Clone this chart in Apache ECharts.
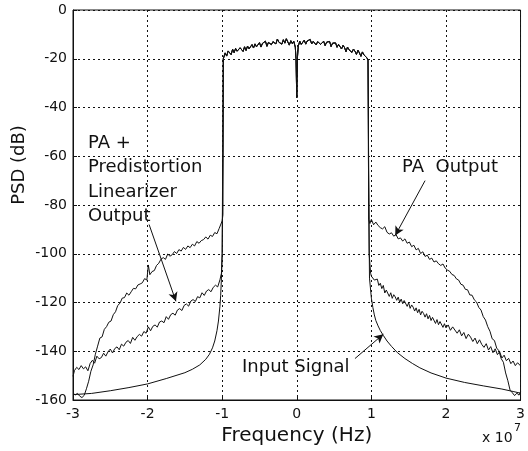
<!DOCTYPE html>
<html>
<head>
<meta charset="utf-8">
<script src="https://cdn.jsdelivr.net/npm/echarts@6/dist/echarts.min.js"></script>
<style>html,body{margin:0;padding:0;background:#fff;}#c{width:528px;height:451px;}</style>
</head>
<body>
<div id="c"></div>
<script>
// Frequency in units of 1e7 Hz, PSD in dB
const xTicks = [-3, -2, -1, 0, 1, 2, 3];
const yTicks = [0, -20, -40, -60, -80, -100, -120, -140, -160];

// shared in-band region (all three spectra overlap here)
const inBand = [[-0.98,-20.5],[-0.96,-17.6],[-0.94,-18.9],[-0.92,-16.8],[-0.90,-17.2],[-0.88,-18.3],[-0.86,-16.1],[-0.84,-17.5],[-0.82,-15.8],[-0.80,-16.9],[-0.78,-17.4],[-0.76,-15.5],[-0.74,-16.2],[-0.72,-17.0],[-0.70,-15.1],[-0.68,-16.6],[-0.66,-14.8],[-0.64,-15.9],[-0.62,-16.4],[-0.60,-14.2],[-0.58,-15.6],[-0.56,-13.9],[-0.54,-15.1],[-0.52,-14.6],[-0.50,-13.4],[-0.48,-15.2],[-0.46,-13.7],[-0.44,-14.1],[-0.42,-12.8],[-0.40,-14.9],[-0.38,-13.3],[-0.36,-12.6],[-0.34,-14.2],[-0.32,-13.0],[-0.30,-12.3],[-0.28,-13.9],[-0.26,-11.9],[-0.24,-13.2],[-0.22,-12.5],[-0.20,-14.0],[-0.18,-12.2],[-0.16,-13.6],[-0.14,-11.8],[-0.12,-13.1],[-0.10,-14.4],[-0.08,-12.6],[-0.06,-13.8],[-0.04,-12.9],[-0.02,-15.2],[-0.01,-20.0],[-0.004,-30.0],[0.00,-36.0],[0.004,-28.0],[0.01,-19.0],[0.02,-14.9],[0.04,-12.8],[0.06,-14.1],[0.08,-13.3],[0.10,-12.4],[0.12,-14.0],[0.14,-12.7],[0.16,-13.5],[0.18,-12.1],[0.20,-13.9],[0.22,-12.9],[0.24,-12.4],[0.26,-14.3],[0.28,-13.0],[0.30,-12.6],[0.32,-14.1],[0.34,-13.4],[0.36,-12.8],[0.38,-14.6],[0.40,-13.2],[0.42,-14.0],[0.44,-12.9],[0.46,-15.0],[0.48,-13.6],[0.50,-14.4],[0.52,-13.5],[0.54,-15.3],[0.56,-14.1],[0.58,-14.8],[0.60,-16.0],[0.62,-14.5],[0.64,-15.4],[0.66,-17.1],[0.68,-15.2],[0.70,-16.3],[0.72,-15.6],[0.74,-17.4],[0.76,-16.0],[0.78,-16.9],[0.80,-18.2],[0.82,-16.5],[0.84,-17.6],[0.86,-19.0],[0.88,-17.2],[0.90,-18.4],[0.92,-17.6],[0.94,-19.6],[0.955,-20.5]];

// PA output skirts
const paLeft = [[-3.00,-157.2],[-2.97,-157.9],[-2.94,-157.3],[-2.91,-158.4],[-2.88,-159.0],[-2.85,-158.1],[-2.82,-155.4],[-2.79,-152.3],[-2.76,-148.2],[-2.73,-145.6],[-2.70,-141.2],[-2.67,-137.9],[-2.64,-134.6],[-2.61,-134.1],[-2.58,-131.0],[-2.55,-129.9],[-2.52,-128.1],[-2.49,-127.6],[-2.46,-125.0],[-2.43,-123.8],[-2.40,-121.2],[-2.37,-120.3],[-2.34,-118.2],[-2.31,-118.0],[-2.28,-116.1],[-2.25,-117.0],[-2.22,-115.6],[-2.19,-114.2],[-2.16,-114.4],[-2.13,-112.8],[-2.10,-112.4],[-2.07,-111.9],[-2.04,-110.2],[-2.01,-110.8],[-1.99,-104.6],[-1.97,-108.6],[-1.94,-107.3],[-1.91,-106.9],[-1.88,-104.8],[-1.85,-103.9],[-1.82,-102.2],[-1.79,-101.6],[-1.76,-102.3],[-1.73,-100.1],[-1.70,-101.0],[-1.67,-100.4],[-1.64,-99.1],[-1.61,-99.9],[-1.58,-98.3],[-1.55,-98.9],[-1.52,-97.4],[-1.49,-98.2],[-1.46,-96.8],[-1.43,-97.5],[-1.40,-96.1],[-1.37,-96.8],[-1.34,-95.0],[-1.31,-95.7],[-1.28,-94.6],[-1.25,-94.2],[-1.22,-93.1],[-1.19,-94.0],[-1.16,-92.4],[-1.13,-92.9],[-1.10,-91.3],[-1.07,-91.8],[-1.04,-89.6],[-1.02,-88.9],[-1.00,-86.5],[-0.99,-84.0],[-0.985,-20.0]];
const paRight = [[0.96,-40.0],[0.965,-86.0],[0.98,-87.6],[1.00,-85.9],[1.03,-88.1],[1.06,-87.0],[1.09,-88.4],[1.12,-89.3],[1.15,-89.8],[1.18,-88.9],[1.21,-91.2],[1.24,-91.9],[1.27,-91.4],[1.30,-92.8],[1.33,-92.1],[1.36,-93.9],[1.39,-93.5],[1.42,-94.8],[1.45,-93.9],[1.48,-95.7],[1.51,-95.2],[1.54,-97.1],[1.57,-96.5],[1.60,-98.4],[1.63,-97.8],[1.66,-99.9],[1.69,-99.2],[1.72,-101.1],[1.75,-100.6],[1.78,-102.3],[1.81,-101.8],[1.84,-103.4],[1.87,-102.9],[1.90,-104.1],[1.93,-104.8],[1.96,-104.2],[1.99,-105.9],[2.02,-106.7],[2.05,-107.2],[2.08,-108.5],[2.11,-108.9],[2.14,-110.3],[2.17,-110.8],[2.20,-112.5],[2.23,-112.9],[2.26,-114.6],[2.29,-114.8],[2.32,-116.9],[2.35,-117.0],[2.38,-118.9],[2.41,-119.8],[2.44,-122.0],[2.47,-123.1],[2.50,-125.8],[2.53,-127.2],[2.56,-129.9],[2.59,-131.8],[2.62,-134.9],[2.65,-135.6],[2.68,-138.7],[2.71,-139.8],[2.74,-143.0],[2.77,-144.5],[2.80,-148.9],[2.83,-152.1],[2.86,-156.0],[2.89,-157.0],[2.92,-158.2],[2.95,-157.2],[2.98,-158.0],[3.00,-156.6]];

// PA + predistortion linearizer output skirts
const pdLeft = [[-3.00,-150.3],[-2.98,-147.9],[-2.95,-146.6],[-2.92,-147.5],[-2.89,-145.9],[-2.86,-147.2],[-2.83,-146.4],[-2.80,-148.0],[-2.77,-145.0],[-2.74,-143.7],[-2.71,-144.9],[-2.68,-142.0],[-2.65,-143.1],[-2.62,-142.6],[-2.59,-140.8],[-2.56,-142.0],[-2.53,-140.2],[-2.50,-139.1],[-2.47,-140.7],[-2.44,-138.9],[-2.41,-138.2],[-2.38,-139.4],[-2.35,-137.1],[-2.32,-137.9],[-2.29,-136.3],[-2.26,-135.6],[-2.23,-136.8],[-2.20,-134.3],[-2.17,-135.5],[-2.14,-134.0],[-2.11,-133.1],[-2.08,-133.8],[-2.05,-131.9],[-2.02,-132.6],[-1.99,-130.0],[-1.96,-131.6],[-1.93,-129.8],[-1.90,-129.2],[-1.87,-130.1],[-1.84,-128.0],[-1.81,-127.6],[-1.78,-128.3],[-1.75,-125.8],[-1.72,-126.9],[-1.69,-125.0],[-1.66,-124.4],[-1.63,-125.2],[-1.60,-123.1],[-1.57,-122.5],[-1.54,-123.3],[-1.51,-121.2],[-1.48,-120.6],[-1.45,-121.5],[-1.42,-119.4],[-1.39,-118.8],[-1.36,-119.6],[-1.33,-117.6],[-1.30,-118.1],[-1.27,-116.0],[-1.24,-117.1],[-1.21,-115.3],[-1.18,-114.7],[-1.15,-115.6],[-1.12,-113.8],[-1.09,-112.9],[-1.06,-113.6],[-1.03,-110.7],[-1.01,-108.0],[-1.00,-100.0],[-0.995,-70.0],[-0.99,-55.0],[-0.985,-20.0]];
const pdRight = [[0.96,-45.0],[0.97,-100.0],[0.99,-108.0],[1.00,-109.2],[1.02,-108.6],[1.04,-110.8],[1.06,-111.5],[1.08,-110.4],[1.10,-113.0],[1.12,-112.1],[1.14,-114.3],[1.16,-113.0],[1.18,-116.1],[1.20,-114.9],[1.22,-115.6],[1.24,-117.5],[1.26,-116.0],[1.28,-118.3],[1.30,-116.8],[1.32,-117.7],[1.34,-119.1],[1.36,-117.8],[1.38,-119.9],[1.40,-118.6],[1.42,-120.5],[1.44,-119.2],[1.46,-120.0],[1.48,-121.6],[1.50,-120.1],[1.52,-122.4],[1.54,-121.0],[1.56,-121.9],[1.58,-123.5],[1.60,-122.2],[1.62,-124.2],[1.64,-122.8],[1.66,-125.1],[1.68,-123.6],[1.70,-124.5],[1.72,-126.0],[1.74,-124.6],[1.76,-126.7],[1.78,-125.3],[1.80,-127.4],[1.82,-126.1],[1.84,-126.9],[1.86,-128.6],[1.88,-127.0],[1.90,-129.1],[1.92,-127.8],[1.94,-128.6],[1.96,-130.2],[1.98,-128.7],[2.00,-130.4],[2.03,-129.2],[2.06,-131.4],[2.09,-130.0],[2.12,-131.3],[2.15,-132.6],[2.18,-131.2],[2.21,-133.7],[2.24,-132.3],[2.27,-134.8],[2.30,-133.0],[2.33,-134.2],[2.36,-136.0],[2.39,-134.6],[2.42,-136.9],[2.45,-135.3],[2.48,-137.2],[2.51,-138.4],[2.54,-136.9],[2.57,-139.5],[2.60,-138.1],[2.63,-140.6],[2.66,-139.0],[2.69,-141.4],[2.72,-140.2],[2.75,-142.8],[2.78,-141.6],[2.81,-143.9],[2.84,-142.9],[2.87,-145.1],[2.90,-144.0],[2.93,-145.9],[2.96,-144.7],[3.00,-146.0]];

// Input signal skirts
const inLeft = [[-3.00,-157.8],[-2.75,-157.3],[-2.50,-156.2],[-2.25,-154.9],[-2.00,-153.4],[-1.75,-151.2],[-1.50,-148.8],[-1.40,-147.4],[-1.30,-145.6],[-1.22,-143.3],[-1.17,-141.2],[-1.13,-138.6],[-1.10,-135.8],[-1.07,-131.6],[-1.05,-127.6],[-1.03,-121.5],[-1.02,-117.0],[-1.01,-110.0],[-1.00,-100.0],[-0.995,-80.0],[-0.985,-20.0]];
const inRight = [[0.96,-60.0],[0.975,-110.0],[1.00,-118.2],[1.02,-122.0],[1.04,-125.1],[1.06,-127.4],[1.09,-129.6],[1.12,-131.5],[1.16,-133.5],[1.21,-135.8],[1.27,-138.0],[1.35,-140.6],[1.45,-143.0],[1.55,-145.0],[1.65,-146.8],[1.80,-148.9],[2.00,-151.0],[2.25,-152.8],[2.50,-154.2],[2.75,-155.5],[2.90,-156.5],[3.00,-157.2]];

// annotation arrows (data coordinates: tail, head)
const arrowPA = [[1.72, -70], [1.32, -92.5]];
const arrowPD = [[-1.98, -88], [-1.62, -119.5]];
const arrowIn = [[0.78, -143], [1.16, -133]];

const FONT = 'DejaVu Sans';
const INK = '#111';

const chart = echarts.init(document.getElementById('c'), null, {renderer: 'canvas'});
const lineStyle = {color: INK, width: 1};

function mk(name, data) {
  return {name: name, type: 'line', data: data, symbol: 'none', lineStyle: lineStyle, silent: true, z: 3};
}

const option = {
  animation: false,
  backgroundColor: '#fff',
  grid: {left: 73, right: 5, top: 10, bottom: 51, show: true, borderColor: INK, borderWidth: 1, backgroundColor: 'transparent'},
  xAxis: {
    type: 'value', min: xTicks[0], max: xTicks[xTicks.length - 1], interval: 1,
    axisLine: {onZero: false, lineStyle: {color: INK, width: 1}},
    axisTick: {inside: true, length: 4, lineStyle: {color: INK}},
    axisLabel: {color: INK, fontFamily: FONT, fontSize: 14, margin: 7},
    splitLine: {show: true, lineStyle: {color: INK, type: [2, 3], width: 1}},
    name: 'Frequency (Hz)', nameLocation: 'middle', nameGap: 19,
    nameTextStyle: {color: INK, fontFamily: FONT, fontSize: 20}
  },
  yAxis: {
    type: 'value', min: yTicks[yTicks.length - 1], max: yTicks[0], interval: 20,
    axisLine: {onZero: false, lineStyle: {color: INK, width: 1}},
    axisTick: {inside: true, length: 4, lineStyle: {color: INK}},
    axisLabel: {color: INK, fontFamily: FONT, fontSize: 14, margin: 6},
    splitLine: {show: true, lineStyle: {color: INK, type: [2, 3], width: 1}}
  },
  series: [
    mk('PA Output', paLeft.concat(inBand, paRight)),
    mk('PA + Predistortion Linearizer Output', pdLeft.concat(inBand, pdRight)),
    Object.assign(mk('Input Signal', inLeft.concat(inBand, inRight)), {
      markLine: {
        silent: true, symbol: ['none', 'arrow'], symbolSize: [7, 9],
        label: {show: false},
        lineStyle: {color: INK, width: 1, type: 'solid'},
        data: [
          [{coord: arrowPA[0]}, {coord: arrowPA[1]}],
          [{coord: arrowPD[0]}, {coord: arrowPD[1]}],
          [{coord: arrowIn[0]}, {coord: arrowIn[1]}]
        ]
      }
    })
  ],
  graphic: [
    {type: 'text', x: 19, y: 165, rotation: Math.PI / 2, style: {text: 'PSD (dB)', font: '18px "DejaVu Sans"', fill: INK, align: 'center', verticalAlign: 'middle'}},
    {type: 'text', left: 88, top: 131, style: {text: 'PA +\nPredistortion\nLinearizer\nOutput', font: '18px "DejaVu Sans"', fill: INK, lineHeight: 24.5}},
    {type: 'text', left: 402, top: 158, style: {text: 'PA  Output', font: '18px "DejaVu Sans"', fill: INK}},
    {type: 'text', left: 242, top: 358, style: {text: 'Input Signal', font: '18px "DejaVu Sans"', fill: INK}},
    {type: 'text', left: 482, top: 431, style: {text: 'x 10', font: '14px "DejaVu Sans"', fill: INK}},
    {type: 'text', left: 514, top: 423, style: {text: '7', font: '11px "DejaVu Sans"', fill: INK}}
  ]
};
chart.setOption(option);
</script>
</body>
</html>
